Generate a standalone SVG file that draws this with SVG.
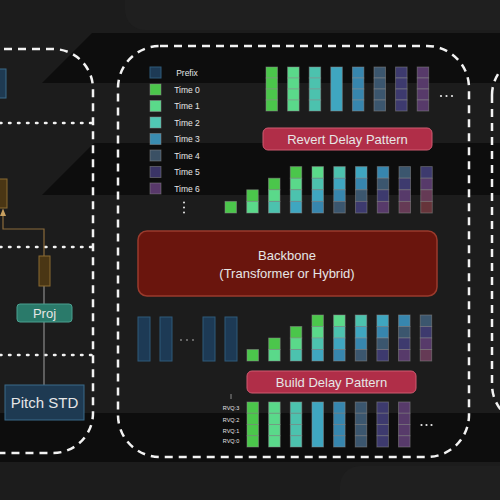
<svg xmlns="http://www.w3.org/2000/svg" width="500" height="500" viewBox="0 0 500 500">
<defs>
<style>
.dash{fill:none;stroke:#f2f2f2;stroke-width:2.5;stroke-dasharray:8 6}
.dot{fill:none;stroke:#f2f2f2;stroke-width:2.5;stroke-dasharray:1.5 7.5;stroke-linecap:round}
.lbl{font-family:"Liberation Sans",Arial,sans-serif;fill:#e6e6e6;text-anchor:middle}
.c{stroke:#8c8c8c;stroke-opacity:0.55;stroke-width:0.9}
.t0{fill:#4bc64b}.t1{fill:#5ad98a}.t2{fill:#4cc2ae}.t3{fill:#3fa6c0}.t4{fill:#3786ae}
.t5{fill:#3b566e}.t6{fill:#3d3a6e}.t7{fill:#573a6a}.t8{fill:#653a55}.t9{fill:#66343a}
.pre{fill:#1d3a55;stroke:#2f5a7a;stroke-width:1}
.brown{fill:#4a3614;stroke:#8a6a30;stroke-width:1}
.wire{fill:none;stroke:#8a8a8a;stroke-width:1.2}
.tan{fill:none;stroke:#8a6a3a;stroke-width:1.2}
.pink{fill:#b02e48;stroke:#d05a70;stroke-width:1}
.wd{fill:#e8e8e8}
</style>
</defs>
<rect width="500" height="500" fill="#1c1c1c"/>
<g id="background" fill="#0d0d0d">
<polygon points="42,83 92,33 500,33 500,83"/>
<polygon points="42,195 94,143 500,143 500,195"/>
<polygon points="0,413 500,413 500,462 0,462"/>
<rect x="125" y="-20" width="400" height="50" rx="20" fill="#1f1f1f"/>
<rect x="340" y="466" width="200" height="60" rx="20" fill="#1f1f1f"/>
</g>

<g id="panels">
<path class="dash" d="M -10 49 H 53 A 40 40 0 0 1 93 89 V 413 A 40 40 0 0 1 53 453 H -10"/>
<path class="dash" d="M 160 46 H 427 A 42 42 0 0 1 469 88 V 415 A 42 42 0 0 1 427 457 H 160 A 42 42 0 0 1 118 415 V 88 A 42 42 0 0 1 160 46 Z"/>
<path class="dash" d="M 492 95 A 40 40 0 0 1 520 57 M 492 95 V 385 A 40 40 0 0 0 510 418"/>
<line class="dot" x1="0" y1="123" x2="92" y2="123"/>
<line class="dot" x1="0" y1="247" x2="92" y2="247"/>
<line class="dot" x1="0" y1="355" x2="92" y2="355"/>
</g>

<g id="connectors">
<polyline class="tan" points="3,215 3,229 44,229 44,256"/>
<polygon points="3,208.5 0,216 6,216" fill="#c8a060"/>
<line class="wire" x1="44" y1="286" x2="44" y2="304"/>
<line class="wire" x1="44" y1="322" x2="44" y2="385"/>
<line x1="231" y1="394" x2="231" y2="399" stroke="#aaa" stroke-width="0.8"/>
</g>

<g id="left-nodes">
<rect id="top-block" x="-5" y="69" width="11" height="29" fill="#1e3a52" stroke="#3a6a8a"/>
<rect id="brown1" class="brown" x="-5" y="179" width="12" height="29"/>
<rect id="brown2" class="brown" x="39" y="256" width="11" height="30"/>
<g id="proj"><rect x="17" y="304" width="55" height="18" rx="3" fill="#2a7a6a" stroke="#4aa090"/><text class="lbl" x="44.5" y="318" font-size="13" fill="#eef6f4">Proj</text></g>
<g id="pitch-std"><rect x="5" y="385" width="79" height="35" fill="#1e3a52" stroke="#3a6a8a"/><text class="lbl" x="44.5" y="408" font-size="15">Pitch STD</text></g>
</g>

<g id="legend">
<rect class="pre" x="150" y="67" width="11" height="11"/><text class="lbl" x="187" y="75.5" font-size="8.5">Prefix</text>
<rect class="t0 c" x="150" y="84" width="11" height="11"/><text class="lbl" x="187" y="92.5" font-size="8.5">Time 0</text>
<rect class="t1 c" x="150" y="100.5" width="11" height="11"/><text class="lbl" x="187" y="109" font-size="8.5">Time 1</text>
<rect class="c" fill="#50c8b4" x="150" y="117" width="11" height="11"/><text class="lbl" x="187" y="125.5" font-size="8.5">Time 2</text>
<rect class="c" fill="#3a8cb0" x="150" y="133.5" width="11" height="11"/><text class="lbl" x="187" y="142" font-size="8.5">Time 3</text>
<rect class="c" fill="#3a5064" x="150" y="150" width="11" height="11"/><text class="lbl" x="187" y="158.5" font-size="8.5">Time 4</text>
<rect class="c" fill="#3a3466" x="150" y="166.5" width="11" height="11"/><text class="lbl" x="187" y="175" font-size="8.5">Time 5</text>
<rect class="c" fill="#58386a" x="150" y="183" width="11" height="11"/><text class="lbl" x="187" y="191.5" font-size="8.5">Time 6</text>
<circle class="wd" cx="184" cy="202.5" r="1"/><circle class="wd" cx="184" cy="207.5" r="1"/><circle class="wd" cx="184" cy="212.5" r="1"/>
</g>

<g id="revert-output">
<g transform="translate(266,67)"><rect class="t0 c" y="0" width="11.5" height="11"/><rect class="t0 c" y="11" width="11.5" height="11"/><rect class="t0 c" y="22" width="11.5" height="11"/><rect class="t0 c" y="33" width="11.5" height="11"/></g>
<g transform="translate(287.6,67)"><rect class="t1 c" y="0" width="11.5" height="11"/><rect class="t1 c" y="11" width="11.5" height="11"/><rect class="t1 c" y="22" width="11.5" height="11"/><rect class="t1 c" y="33" width="11.5" height="11"/></g>
<g transform="translate(309.2,67)"><rect class="t2 c" y="0" width="11.5" height="11"/><rect class="t2 c" y="11" width="11.5" height="11"/><rect class="t2 c" y="22" width="11.5" height="11"/><rect class="t2 c" y="33" width="11.5" height="11"/></g>
<g transform="translate(330.8,67)"><rect class="t3 c" y="0" width="11.5" height="44"/></g>
<g transform="translate(352.4,67)"><rect class="t4 c" y="0" width="11.5" height="11"/><rect class="t4 c" y="11" width="11.5" height="11"/><rect class="t4 c" y="22" width="11.5" height="11"/><rect class="t4 c" y="33" width="11.5" height="11"/></g>
<g transform="translate(374,67)"><rect class="t5 c" y="0" width="11.5" height="11"/><rect class="t5 c" y="11" width="11.5" height="11"/><rect class="t5 c" y="22" width="11.5" height="11"/><rect class="t5 c" y="33" width="11.5" height="11"/></g>
<g transform="translate(395.6,67)"><rect class="t6 c" y="0" width="11.5" height="11"/><rect class="t6 c" y="11" width="11.5" height="11"/><rect class="t6 c" y="22" width="11.5" height="11"/><rect class="t6 c" y="33" width="11.5" height="11"/></g>
<g transform="translate(417.2,67)"><rect class="t7 c" y="0" width="11.5" height="11"/><rect class="t7 c" y="11" width="11.5" height="11"/><rect class="t7 c" y="22" width="11.5" height="11"/><rect class="t7 c" y="33" width="11.5" height="11"/></g>
<circle class="wd" cx="441" cy="96" r="1.1"/><circle class="wd" cx="446.5" cy="96" r="1.1"/><circle class="wd" cx="452" cy="96" r="1.1"/>
</g>

<g id="revert-delay-pattern"><rect class="pink" x="263" y="128" width="169" height="22" rx="5"/><text class="lbl" x="347.5" y="143.5" font-size="13" fill="#f6e6ea">Revert Delay Pattern</text></g>

<g id="delayed-output">
<g transform="translate(225,0)"><rect class="t0 c" y="201.4" width="11.5" height="11.6"/></g>
<g transform="translate(246.75,0)"><rect class="t0 c" y="189.8" width="11.5" height="11.6"/><rect class="t1 c" y="201.4" width="11.5" height="11.6"/></g>
<g transform="translate(268.5,0)"><rect class="t0 c" y="178.2" width="11.5" height="11.6"/><rect class="t1 c" y="189.8" width="11.5" height="11.6"/><rect class="t2 c" y="201.4" width="11.5" height="11.6"/></g>
<g transform="translate(290.25,0)"><rect class="t0 c" y="166.6" width="11.5" height="11.6"/><rect class="t1 c" y="178.2" width="11.5" height="11.6"/><rect class="t2 c" y="189.8" width="11.5" height="11.6"/><rect class="t3 c" y="201.4" width="11.5" height="11.6"/></g>
<g transform="translate(312,0)"><rect class="t1 c" y="166.6" width="11.5" height="11.6"/><rect class="t2 c" y="178.2" width="11.5" height="11.6"/><rect class="t3 c" y="189.8" width="11.5" height="11.6"/><rect class="t4 c" y="201.4" width="11.5" height="11.6"/></g>
<g transform="translate(333.75,0)"><rect class="t2 c" y="166.6" width="11.5" height="11.6"/><rect class="t3 c" y="178.2" width="11.5" height="11.6"/><rect class="t4 c" y="189.8" width="11.5" height="11.6"/><rect class="t5 c" y="201.4" width="11.5" height="11.6"/></g>
<g transform="translate(355.5,0)"><rect class="t3 c" y="166.6" width="11.5" height="11.6"/><rect class="t4 c" y="178.2" width="11.5" height="11.6"/><rect class="t5 c" y="189.8" width="11.5" height="11.6"/><rect class="t6 c" y="201.4" width="11.5" height="11.6"/></g>
<g transform="translate(377.25,0)"><rect class="t4 c" y="166.6" width="11.5" height="11.6"/><rect class="t5 c" y="178.2" width="11.5" height="11.6"/><rect class="t6 c" y="189.8" width="11.5" height="11.6"/><rect class="t7 c" y="201.4" width="11.5" height="11.6"/></g>
<g transform="translate(399,0)"><rect class="t5 c" y="166.6" width="11.5" height="11.6"/><rect class="t6 c" y="178.2" width="11.5" height="11.6"/><rect class="t7 c" y="189.8" width="11.5" height="11.6"/><rect class="t8 c" y="201.4" width="11.5" height="11.6"/></g>
<g transform="translate(420.75,0)"><rect class="t6 c" y="166.6" width="11.5" height="11.6"/><rect class="t7 c" y="178.2" width="11.5" height="11.6"/><rect class="t8 c" y="189.8" width="11.5" height="11.6"/><rect class="t9 c" y="201.4" width="11.5" height="11.6"/></g>
</g>

<g id="backbone"><rect x="138" y="231" width="299" height="65" rx="9" fill="#6a150d" stroke="#9a3a2c" stroke-width="1.5"/>
<text class="lbl" x="287" y="260" font-size="13" fill="#f2dcd6">Backbone</text>
<text class="lbl" x="287" y="277.5" font-size="13" fill="#f2dcd6">(Transformer or Hybrid)</text></g>

<g id="prefix">
<rect class="pre" x="138" y="317" width="12" height="44"/>
<rect class="pre" x="160" y="317" width="12" height="44"/>
<rect class="pre" x="203" y="317" width="12" height="44"/>
<rect class="pre" x="225" y="317" width="12" height="44"/>
<circle cx="181" cy="340" r="0.9" fill="#8a8a8a"/><circle cx="187" cy="340" r="0.9" fill="#8a8a8a"/><circle cx="193" cy="340" r="0.9" fill="#8a8a8a"/>
</g>

<g id="delayed-input">
<g transform="translate(247,0)"><rect class="t0 c" y="349.5" width="11.5" height="11.5"/></g>
<g transform="translate(268.65,0)"><rect class="t0 c" y="338" width="11.5" height="11.5"/><rect class="t1 c" y="349.5" width="11.5" height="11.5"/></g>
<g transform="translate(290.3,0)"><rect class="t0 c" y="326.5" width="11.5" height="11.5"/><rect class="t1 c" y="338" width="11.5" height="11.5"/><rect class="t2 c" y="349.5" width="11.5" height="11.5"/></g>
<g transform="translate(311.95,0)"><rect class="t0 c" y="315" width="11.5" height="11.5"/><rect class="t1 c" y="326.5" width="11.5" height="11.5"/><rect class="t2 c" y="338" width="11.5" height="11.5"/><rect class="t3 c" y="349.5" width="11.5" height="11.5"/></g>
<g transform="translate(333.6,0)"><rect class="t1 c" y="315" width="11.5" height="11.5"/><rect class="t2 c" y="326.5" width="11.5" height="11.5"/><rect class="t3 c" y="338" width="11.5" height="11.5"/><rect class="t4 c" y="349.5" width="11.5" height="11.5"/></g>
<g transform="translate(355.25,0)"><rect class="t2 c" y="315" width="11.5" height="11.5"/><rect class="t3 c" y="326.5" width="11.5" height="11.5"/><rect class="t4 c" y="338" width="11.5" height="11.5"/><rect class="t5 c" y="349.5" width="11.5" height="11.5"/></g>
<g transform="translate(376.9,0)"><rect class="t3 c" y="315" width="11.5" height="11.5"/><rect class="t4 c" y="326.5" width="11.5" height="11.5"/><rect class="t5 c" y="338" width="11.5" height="11.5"/><rect class="t6 c" y="349.5" width="11.5" height="11.5"/></g>
<g transform="translate(398.55,0)"><rect class="t4 c" y="315" width="11.5" height="11.5"/><rect class="t5 c" y="326.5" width="11.5" height="11.5"/><rect class="t6 c" y="338" width="11.5" height="11.5"/><rect class="t7 c" y="349.5" width="11.5" height="11.5"/></g>
<g transform="translate(420.2,0)"><rect class="t5 c" y="315" width="11.5" height="11.5"/><rect class="t6 c" y="326.5" width="11.5" height="11.5"/><rect class="t7 c" y="338" width="11.5" height="11.5"/><rect class="t8 c" y="349.5" width="11.5" height="11.5"/></g>
</g>

<g id="build-delay-pattern"><rect class="pink" x="247" y="371" width="169" height="22" rx="5"/><text class="lbl" x="331.5" y="386.5" font-size="13" fill="#f6e6ea">Build Delay Pattern</text></g>

<g id="rvq-input">
<text class="lbl" x="231" y="410" font-size="5.5">RVQ:3</text>
<text class="lbl" x="231" y="422" font-size="5.5">RVQ:2</text>
<text class="lbl" x="231" y="432.5" font-size="5.5">RVQ:1</text>
<text class="lbl" x="231" y="442.5" font-size="5.5">RVQ:0</text>
<g transform="translate(247,402)"><rect class="t0 c" y="0" width="11.5" height="11.25"/><rect class="t0 c" y="11.25" width="11.5" height="11.25"/><rect class="t0 c" y="22.5" width="11.5" height="11.25"/><rect class="t0 c" y="33.75" width="11.5" height="11.25"/></g>
<g transform="translate(268.65,402)"><rect class="t1 c" y="0" width="11.5" height="11.25"/><rect class="t1 c" y="11.25" width="11.5" height="11.25"/><rect class="t1 c" y="22.5" width="11.5" height="11.25"/><rect class="t1 c" y="33.75" width="11.5" height="11.25"/></g>
<g transform="translate(290.3,402)"><rect class="t2 c" y="0" width="11.5" height="11.25"/><rect class="t2 c" y="11.25" width="11.5" height="11.25"/><rect class="t2 c" y="22.5" width="11.5" height="11.25"/><rect class="t2 c" y="33.75" width="11.5" height="11.25"/></g>
<g transform="translate(311.95,402)"><rect class="t3 c" y="0" width="11.5" height="45"/></g>
<g transform="translate(333.6,402)"><rect class="t4 c" y="0" width="11.5" height="11.25"/><rect class="t4 c" y="11.25" width="11.5" height="11.25"/><rect class="t4 c" y="22.5" width="11.5" height="11.25"/><rect class="t4 c" y="33.75" width="11.5" height="11.25"/></g>
<g transform="translate(355.25,402)"><rect class="t5 c" y="0" width="11.5" height="11.25"/><rect class="t5 c" y="11.25" width="11.5" height="11.25"/><rect class="t5 c" y="22.5" width="11.5" height="11.25"/><rect class="t5 c" y="33.75" width="11.5" height="11.25"/></g>
<g transform="translate(376.9,402)"><rect class="t6 c" y="0" width="11.5" height="11.25"/><rect class="t6 c" y="11.25" width="11.5" height="11.25"/><rect class="t6 c" y="22.5" width="11.5" height="11.25"/><rect class="t6 c" y="33.75" width="11.5" height="11.25"/></g>
<g transform="translate(398.55,402)"><rect class="t7 c" y="0" width="11.5" height="11.25"/><rect class="t7 c" y="11.25" width="11.5" height="11.25"/><rect class="t7 c" y="22.5" width="11.5" height="11.25"/><rect class="t7 c" y="33.75" width="11.5" height="11.25"/></g>
<circle class="wd" cx="421.5" cy="425" r="1.1"/><circle class="wd" cx="426.5" cy="425" r="1.1"/><circle class="wd" cx="431.5" cy="425" r="1.1"/>
</g>
</svg>
